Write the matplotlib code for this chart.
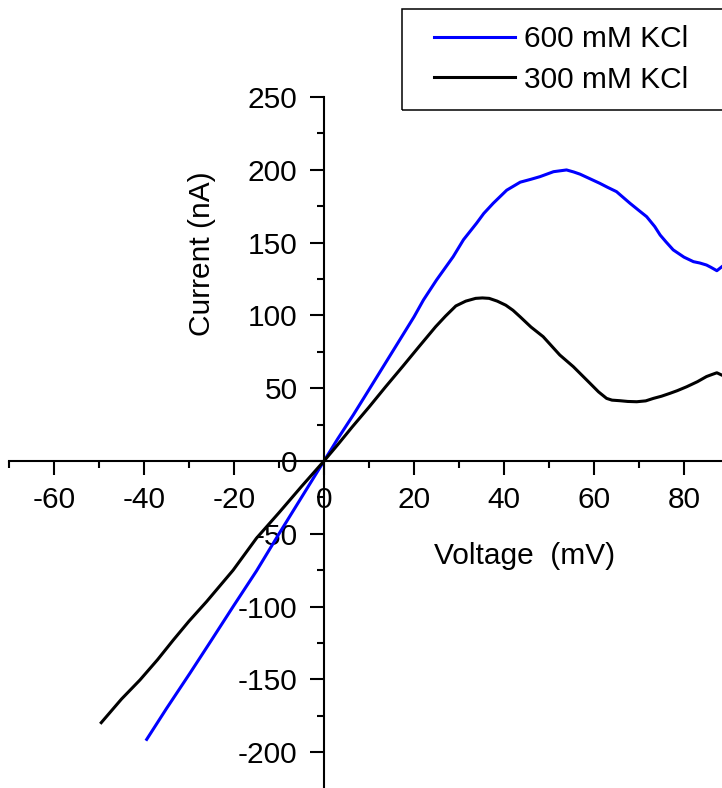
import matplotlib
matplotlib.use("Agg")
import matplotlib.pyplot as plt
from matplotlib.ticker import MultipleLocator
from matplotlib.patches import Rectangle

plt.rcParams['font.family'] = ['Liberation Sans', 'DejaVu Sans']
plt.rcParams['axes.unicode_minus'] = False

# 300 mM KCl (black)
v_300 = [-49.5, -45, -40.9, -37, -33.5, -30, -26.1, -20.2, -15, -10, -5, 0, 3, 6.3, 10,
         13.7, 17.5, 21.1, 24.8, 27, 29.3, 31.5, 33.7, 35.2, 36.7, 38.5, 40.4, 42, 43.6, 46,
         48.7, 52.4, 55.4, 59.1, 61, 62.8, 64, 65.8, 67.5, 69.5, 71.5, 73.2, 75, 76.9, 78.5,
         80.6, 83, 85, 86.3, 87.3, 88.4]
i_300 = [-179.7, -163.5, -150.4, -136.5, -123, -110, -96.6, -75, -53, -35.5, -17.5, 0, 11,
         23.5, 37, 51, 65, 78.5, 92.2, 99.5, 106.5, 109.8, 111.7, 112, 111.7, 109.8, 107, 103.5,
         99, 92, 85.4, 72.8, 64.8, 53.4, 47.5, 43, 41.8, 41.4, 40.9, 40.7, 41.3, 43, 44.5, 46.5,
         48.3, 51, 54.5, 58, 59.5, 60.6, 59]

# 600 mM KCl (blue)
v_600 = [-39.4, -35, -29.8, -25, -20.2, -15, -10, -5, 0, 3, 6.5, 10, 15, 20, 22.1, 25, 28.7, 31,
         33.9, 35.5, 37.6, 40.6, 43.6, 46, 48, 51, 53.9, 55.5, 56.9, 59, 61.3, 63, 65, 66.5, 68,
         70, 71.7, 73.5, 74.7, 76, 77.6, 80, 82.1, 83.5, 85, 86, 87.3, 88.4]
i_600 = [-191.2, -170, -145.8, -123, -100, -75.5, -50, -25, 0, 15, 31.6, 49, 74, 99, 110.6, 124.3,
         140.3, 152, 163.3, 170, 177, 186, 191.5, 193.5, 195.3, 198.7, 199.9, 198.5, 197, 194,
         190.7, 188, 185, 181, 177, 172, 167.8, 161, 155.2, 150.5, 145, 140, 136.9, 136, 134.6,
         133, 130.7, 133.4]

labels = ['600 mM KCl', '300 mM KCl']
x_label = 'Voltage  (mV)'
y_label = 'Current (nA)'

W, H = 722, 788
fig = plt.figure(figsize=(W / 100, H / 100), dpi=100)

# axes placement in pixels
x0_px = 324.0
px_per_mv = 4.5
left_px = 9.0
top_px = 97.0
ax_left = left_px / W
ax_w = (W - left_px) / W
ax_bottom = 0.0
ax_h = (H - top_px) / H
ax = fig.add_axes([ax_left, ax_bottom, ax_w, ax_h])

xmin = (left_px - x0_px) / px_per_mv
xmax = (W - x0_px) / px_per_mv
y0_px = 461.0
px_per_na = (y0_px - top_px) / 250.0
ymin = -(H - y0_px) / px_per_na
ax.set_xlim(xmin, xmax)
ax.set_ylim(ymin, 250)

fs = 21.5
l600, = ax.plot(v_600, i_600, color='#0000ff', lw=2.2, label=labels[0], solid_joinstyle='round')
l300, = ax.plot(v_300, i_300, color='black', lw=2.2, label=labels[1], solid_joinstyle='round')

for s in ['top', 'right']:
    ax.spines[s].set_visible(False)
ax.spines['left'].set_position(('data', 0))
ax.spines['bottom'].set_position(('data', 0))
ax.spines['left'].set_linewidth(1.5)
ax.spines['bottom'].set_linewidth(1.5)

ax.xaxis.set_major_locator(MultipleLocator(20))
ax.xaxis.set_minor_locator(MultipleLocator(10))
ax.yaxis.set_major_locator(MultipleLocator(50))
ax.yaxis.set_minor_locator(MultipleLocator(25))
ax.tick_params(axis='both', which='major', direction='out', length=10, width=1.5, labelsize=fs)
ax.tick_params(axis='both', which='minor', direction='out', length=5, width=1.5)
ax.tick_params(axis='x', which='major', pad=8)
ax.tick_params(axis='y', which='major', pad=9)
ax.set_xticks([-60, -40, -20, 0, 20, 40, 60, 80])
ax.set_yticks([-200, -150, -100, -50, 0, 50, 100, 150, 200, 250])
ax.patch.set_alpha(0)

# axis titles
fig.text(202 / W, 1 - 253.5 / H, y_label, rotation=90, ha='center', va='center', fontsize=fs)
fig.text(525 / W, 1 - 564 / H, x_label, ha='center', va='baseline', fontsize=fs)

# legend (entries) and its frame
leg = fig.legend(handles=[l600, l300], labels=labels, loc='upper left',
                 bbox_to_anchor=(434 / W, 1 - 25 / H), frameon=False, fontsize=fs,
                 borderpad=0, borderaxespad=0, handlelength=2.7, handletextpad=0.33,
                 labelspacing=0.42)
fig.patches.append(Rectangle((402 / W, 1 - 110 / H), 340 / W, 101 / H,
                             transform=fig.transFigure, fill=False, edgecolor='black',
                             lw=1.1, clip_on=False))

fig.savefig('out.png', dpi=100)
